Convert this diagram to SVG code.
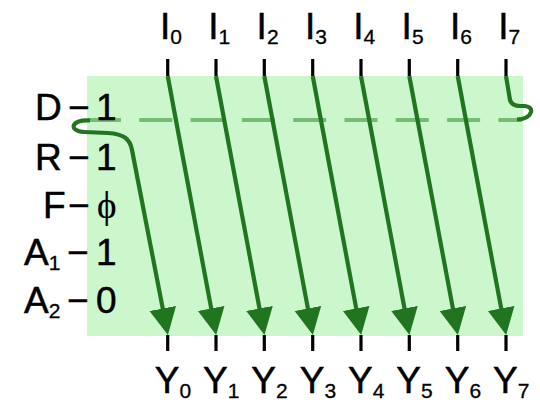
<svg xmlns="http://www.w3.org/2000/svg" width="540" height="402" viewBox="0 0 540 402">
<style>
text{font-family:"Liberation Sans",Arial,sans-serif;font-size:37px;fill:#000;stroke:#000;stroke-width:0.5}
.sub{font-size:21px;stroke-width:0.3}
.tick{stroke:#000;stroke-width:3.2}
.wire{fill:none;stroke:#217521;stroke-width:4.2}
.dash{fill:none;stroke:#6cb66c;stroke-width:4;stroke-dasharray:33 18.3;opacity:0.9}
</style>
<defs>
<marker id="ah" markerUnits="userSpaceOnUse" markerWidth="30" markerHeight="30" refX="6" refY="13.5" orient="auto">
<path d="M0,0 L27,13.5 L0,27 Z" fill="#217521"/>
</marker>
</defs>
<rect id="panel" x="87" y="76" width="436" height="260" fill="#ccf7cc"/>

<g id="ticks">
<line class="tick" x1="167.7" y1="59" x2="167.7" y2="76"/>
<line class="tick" x1="216" y1="59" x2="216" y2="76"/>
<line class="tick" x1="264.3" y1="59" x2="264.3" y2="76"/>
<line class="tick" x1="312.7" y1="59" x2="312.7" y2="76"/>
<line class="tick" x1="361" y1="59" x2="361" y2="76"/>
<line class="tick" x1="409.3" y1="59" x2="409.3" y2="76"/>
<line class="tick" x1="457.7" y1="59" x2="457.7" y2="76"/>
<line class="tick" x1="506" y1="59" x2="506" y2="76"/>
<line class="tick" x1="167.7" y1="335" x2="167.7" y2="351"/>
<line class="tick" x1="216" y1="335" x2="216" y2="351"/>
<line class="tick" x1="264.3" y1="335" x2="264.3" y2="351"/>
<line class="tick" x1="312.7" y1="335" x2="312.7" y2="351"/>
<line class="tick" x1="361" y1="335" x2="361" y2="351"/>
<line class="tick" x1="409.3" y1="335" x2="409.3" y2="351"/>
<line class="tick" x1="457.7" y1="335" x2="457.7" y2="351"/>
<line class="tick" x1="506" y1="335" x2="506" y2="351"/>
</g>

<g id="connectors">
<line class="dash" x1="88" y1="120" x2="522" y2="120"/>
<path class="wire" d="M90 120.5 C71 119 68 131 84 132 L108 133 C124 134 130 139 132 150 L163.9 314.4" marker-end="url(#ah)"/>
<path class="wire" d="M167.7 76 L212.3 314.3" marker-end="url(#ah)"/>
<path class="wire" d="M216 76 L260.6 314.3" marker-end="url(#ah)"/>
<path class="wire" d="M264.3 76 L309 314.3" marker-end="url(#ah)"/>
<path class="wire" d="M312.7 76 L357.3 314.3" marker-end="url(#ah)"/>
<path class="wire" d="M361 76 L405.6 314.3" marker-end="url(#ah)"/>
<path class="wire" d="M409.3 76 L454 314.3" marker-end="url(#ah)"/>
<path class="wire" d="M457.7 76 L502.3 314.3" marker-end="url(#ah)"/>
<path class="wire" d="M506 76 L510 100 Q512 106 520 106 L525 106 Q532 107 531 112 Q529 119 517 119.5"/>
</g>

<g id="inputs">
<text id="I0" x="160" y="39">I<tspan class="sub" dy="5">0</tspan></text>
<text id="I1" x="208.3" y="39">I<tspan class="sub" dy="5">1</tspan></text>
<text id="I2" x="256.6" y="39">I<tspan class="sub" dy="5">2</tspan></text>
<text id="I3" x="305" y="39">I<tspan class="sub" dy="5">3</tspan></text>
<text id="I4" x="353.3" y="39">I<tspan class="sub" dy="5">4</tspan></text>
<text id="I5" x="401.6" y="39">I<tspan class="sub" dy="5">5</tspan></text>
<text id="I6" x="450" y="39">I<tspan class="sub" dy="5">6</tspan></text>
<text id="I7" x="498.3" y="39">I<tspan class="sub" dy="5">7</tspan></text>
</g>

<g id="outputs">
<text id="Y0" x="154.7" y="392.5">Y<tspan class="sub" dy="5">0</tspan></text>
<text id="Y1" x="203" y="392.5">Y<tspan class="sub" dy="5">1</tspan></text>
<text id="Y2" x="251.3" y="392.5">Y<tspan class="sub" dy="5">2</tspan></text>
<text id="Y3" x="299.7" y="392.5">Y<tspan class="sub" dy="5">3</tspan></text>
<text id="Y4" x="348" y="392.5">Y<tspan class="sub" dy="5">4</tspan></text>
<text id="Y5" x="396.3" y="392.5">Y<tspan class="sub" dy="5">5</tspan></text>
<text id="Y6" x="444.7" y="392.5">Y<tspan class="sub" dy="5">6</tspan></text>
<text id="Y7" x="493" y="392.5">Y<tspan class="sub" dy="5">7</tspan></text>
</g>

<g id="controls">
<text id="D" x="35" y="120">D<tspan x="68">−</tspan><tspan x="96">1</tspan></text>
<text id="R" x="35" y="170">R<tspan x="68">−</tspan><tspan x="96">1</tspan></text>
<text id="F" x="43" y="218">F<tspan x="68">−</tspan><tspan x="97" font-family="'Liberation Serif','DejaVu Serif',serif" stroke-width="0.2">ϕ</tspan></text>
<text id="A1" x="24" y="265">A<tspan class="sub" dy="5">1</tspan><tspan x="67" dy="-5">−</tspan><tspan x="96">1</tspan></text>
<text id="A2" x="24" y="313">A<tspan class="sub" dy="5">2</tspan><tspan x="67" dy="-5">−</tspan><tspan x="96">0</tspan></text>
</g>
</svg>
